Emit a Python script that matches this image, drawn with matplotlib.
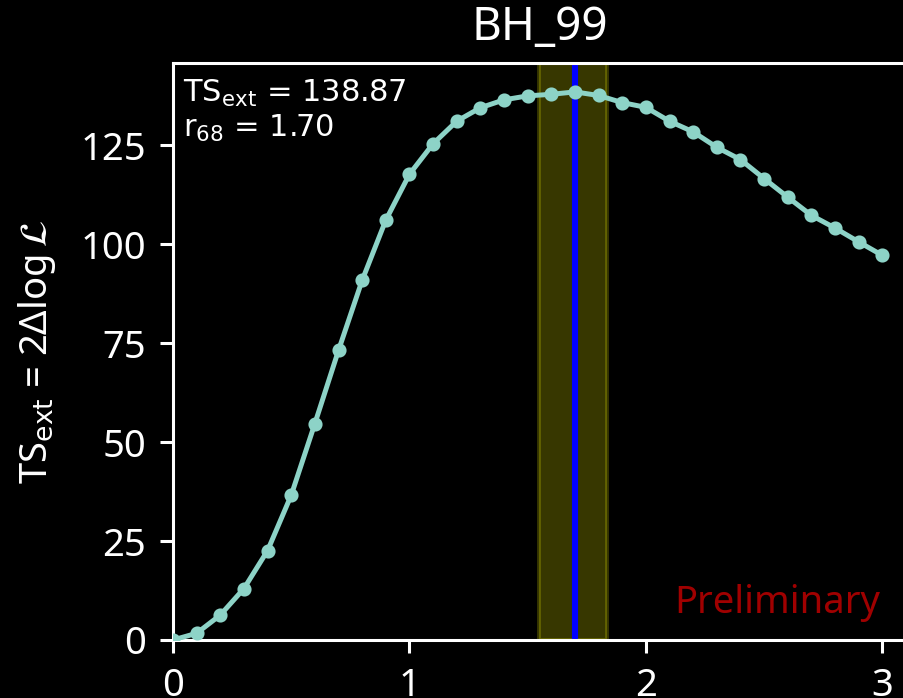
import matplotlib
matplotlib.use("Agg")
import matplotlib.pyplot as plt

# extension scan for BH_99
radius = [0.0, 0.1, 0.2, 0.3, 0.4, 0.5, 0.6, 0.7, 0.8, 0.9,
          1.0, 1.1, 1.2, 1.3, 1.4, 1.5, 1.6, 1.7, 1.8, 1.9,
          2.0, 2.1, 2.2, 2.3, 2.4, 2.5, 2.6, 2.7, 2.8, 2.9, 3.0]
ts_ext = [0.0, 1.7, 6.3, 13.0, 22.6, 36.6, 54.7, 73.2, 90.9, 106.1,
          117.7, 125.4, 131.1, 134.5, 136.5, 137.5, 137.9, 138.5, 137.6, 135.8,
          134.6, 131.1, 128.4, 124.5, 121.4, 116.6, 111.9, 107.3, 104.1, 100.6, 97.2]
r68 = 1.70
r68_lo = 1.55
r68_hi = 1.835
ts_best = 138.87
source = "BH_99"

plt.style.use("dark_background")
plt.rcParams["font.family"] = ["Noto Sans", "DejaVu Sans"]
plt.rcParams["mathtext.fontset"] = "dejavusans"

fig = plt.figure(figsize=(903 / 275, 698 / 275), dpi=275)
ax = fig.add_axes([0.1916, 0.0831, 0.8117, 0.8266])

ax.axvspan(r68_lo, r68_hi, color="yellow", alpha=0.22, zorder=1)
ax.axvline(r68, color="blue", lw=1.6, zorder=2)
ax.plot(radius, ts_ext, "o-", color="#8dd3c7", lw=1.3, ms=2.7, zorder=3)

ax.set_xlim(0, 3.1)
ax.set_ylim(0, 145.8)
ax.set_xticks([0, 1, 2, 3])
ax.set_yticks([0, 25, 50, 75, 100, 125])
ax.set_title(source)
ax.set_ylabel(r"TS$_{\mathrm{ext}}$ = 2Δlog$\,\mathcal{L}$", labelpad=6)

ax.text(0.014, 0.975, r"TS$_{\rm ext}$ = %.2f" % ts_best + "\n" + r"r$_{68}$ = %.2f" % r68,
        transform=ax.transAxes, ha="left", va="top", fontsize=8, family="DejaVu Sans")
ax.text(0.965, 0.047, "Preliminary", transform=ax.transAxes, ha="right", va="baseline",
        color="#a00000")

fig.savefig("out.png", dpi=275)
